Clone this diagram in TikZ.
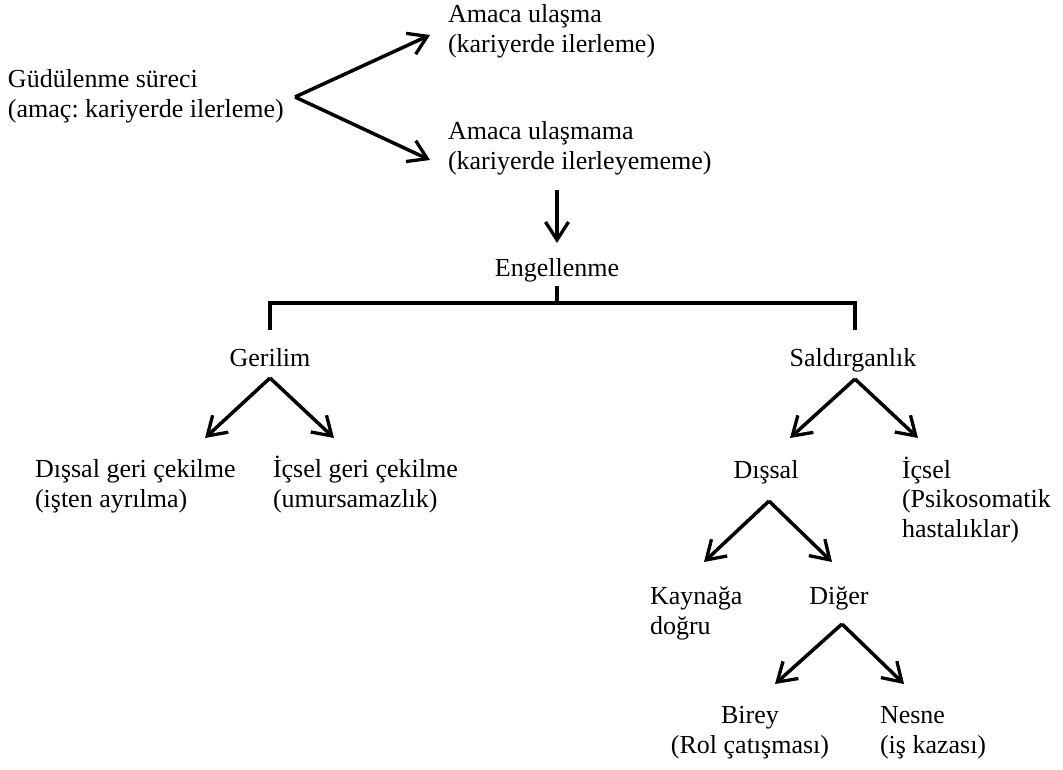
\documentclass[tikz,border=0pt]{standalone}
\usepackage{fontspec}
\setmainfont{Liberation Serif}
\frenchspacing
\usetikzlibrary{arrows.meta}
\tikzset{
  % multi-line labels: the base anchor sits on the last line
  lbl/.style={inner sep=0pt, outer sep=0pt, align=left, anchor=base west,
    font=\fontsize{26}{29.5}\selectfont},
  clbl/.style={lbl, align=center, anchor=base},
  link/.style={line width=3.5pt},
  arr/.style={link, -{Straight Barb[length=18pt,width=23pt,line width=3.3pt]}},
}
\begin{document}
\begin{tikzpicture}[x=1pt,y=-1pt]
\useasboundingbox (0,0) rectangle (1063,769);

% texts
\node[lbl]  (gud) at (8,117)   {Güdülenme süreci\\(amaç: kariyerde ilerleme)};
\node[lbl]  (ul1) at (448,52)  {Amaca ulaşma\\(kariyerde ilerleme)};
\node[lbl]  (ul2) at (448,169) {Amaca ulaşmama\\(kariyerde ilerleyememe)};
\node[clbl] (eng) at (557,276) {Engellenme};
\node[clbl] (ger) at (270,366) {Gerilim};
\node[clbl] (sal) at (853,366) {Saldırganlık};
\node[lbl]  (dg)  at (35,507)  {Dışsal geri çekilme\\(işten ayrılma)};
\node[lbl]  (ig)  at (273,507) {İçsel geri çekilme\\(umursamazlık)};
\node[clbl] (ds)  at (766,478) {Dışsal};
\node[lbl]  (ic)  at (902,537) {İçsel\\(Psikosomatik\\hastalıklar)};
\node[lbl]  (kay) at (650,634) {Kaynağa\\doğru};
\node[clbl] (dig) at (839,604) {Diğer};
\node[clbl] (bir) at (750,753) {Birey\\(Rol çatışması)};
\node[lbl]  (nes) at (880,753) {Nesne\\(iş kazası)};

% branching points and arrow ends
\coordinate (v0) at (295,97);
\coordinate (t01) at (430,35);
\coordinate (t02) at (430,160);
\coordinate (d0) at (557,190);
\coordinate (d1) at (557,243);
\coordinate (b0) at (557,286);
\coordinate (bm) at (557,303);
\coordinate (bl) at (270,330);
\coordinate (br) at (855,330);
\coordinate (vg) at (270,378);
\coordinate (tg1) at (205,438);
\coordinate (tg2) at (334,438);
\coordinate (vs) at (855,379);
\coordinate (ts1) at (790,438);
\coordinate (ts2) at (918,438);
\coordinate (vd) at (769,501);
\coordinate (td1) at (704,562);
\coordinate (td2) at (832,562);
\coordinate (vo) at (842,624);
\coordinate (to1) at (775,684);
\coordinate (to2) at (904,684);

% connectors
\draw[arr] (v0) -- (t01);
\draw[arr] (v0) -- (t02);
\draw[arr] (d0) -- (d1);
\draw[link] (b0) -- (bm);
\draw[link] (bl) |- (bm) -| (br);
\draw[arr] (vg) -- (tg1);
\draw[arr] (vg) -- (tg2);
\draw[arr] (vs) -- (ts1);
\draw[arr] (vs) -- (ts2);
\draw[arr] (vd) -- (td1);
\draw[arr] (vd) -- (td2);
\draw[arr] (vo) -- (to1);
\draw[arr] (vo) -- (to2);
\end{tikzpicture}
\end{document}
